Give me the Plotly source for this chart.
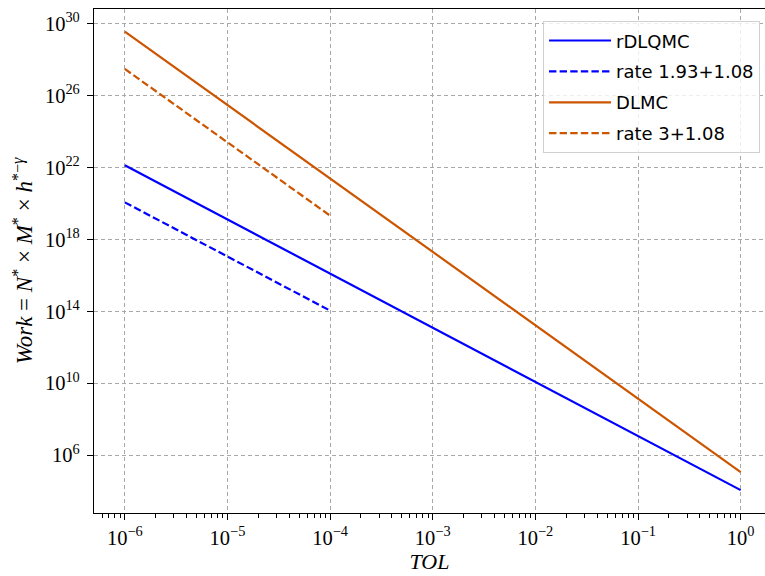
import plotly.graph_objects as go

# Tolerance levels (one per decade)
tol = [1e-6, 1e-5, 1e-4, 1e-3, 1e-2, 1e-1, 1e0]

# Estimated total work for each method
work_rdlqmc = [1.32e22, 1.29e19, 1.26e16, 1.23e13, 1.20e10, 1.17e7, 1.15e4]
work_dlmc = [3.55e29, 2.95e25, 2.45e21, 2.04e17, 1.70e13, 1.41e9, 1.17e5]

# Reference rate lines over the small-tolerance range
tol_rate = [1e-6, 1e-5, 1e-4]
rate_rdlqmc = [1.15e20, 1.12e17, 1.10e14]
rate_dlmc = [3.0e27, 2.5e23, 2.1e19]

# Tick positions and labels
x_tickvals = [1e-6, 1e-5, 1e-4, 1e-3, 1e-2, 1e-1, 1e0]
x_ticktext = ["10<sup>−6</sup>", "10<sup>−5</sup>", "10<sup>−4</sup>", "10<sup>−3</sup>",
              "10<sup>−2</sup>", "10<sup>−1</sup>", "10<sup>0</sup>"]
y_tickvals = [1e6, 1e10, 1e14, 1e18, 1e22, 1e26, 1e30]
y_ticktext = ["10<sup>6</sup>", "10<sup>10</sup>", "10<sup>14</sup>", "10<sup>18</sup>",
              "10<sup>22</sup>", "10<sup>26</sup>", "10<sup>30</sup>"]

BLUE = "#0000ff"
ORANGE = "#cc5500"
SERIF = "Liberation Serif"
DASH = "7.4px,3.2px"

fig = go.Figure()
fig.add_trace(go.Scatter(x=tol, y=work_rdlqmc, mode="lines", name="rDLQMC",
                         line=dict(color=BLUE, width=2.2), legendgroup="a"))
fig.add_trace(go.Scatter(x=tol_rate, y=rate_rdlqmc, mode="lines", name="rate 1.93+1.08",
                         line=dict(color=BLUE, width=2.2, dash=DASH), legendgroup="b"))
fig.add_trace(go.Scatter(x=tol, y=work_dlmc, mode="lines", name="DLMC",
                         line=dict(color=ORANGE, width=2.2), legendgroup="c"))
fig.add_trace(go.Scatter(x=tol_rate, y=rate_dlmc, mode="lines", name="rate 3+1.08",
                         line=dict(color=ORANGE, width=2.2, dash=DASH), legendgroup="d"))

axis_common = dict(
    type="log",
    showline=True, linecolor="black", linewidth=1.3,
    ticks="outside", ticklen=6, tickwidth=1.2, tickcolor="black",
    showgrid=True, gridcolor="#a8a8a8", gridwidth=1, griddash="4px,3px",
    zeroline=False,
    tickfont=dict(family=SERIF, size=20.5, color="black"),
)

fig.update_xaxes(
    **axis_common,
    range=[-6.3, 0.237],
    tickmode="array", tickvals=x_tickvals, ticktext=x_ticktext,
    mirror=True,
    minor=dict(ticks="outside", ticklen=3.5, tickwidth=1, tickcolor="black",
               dtick="D1", showgrid=False),
    title=dict(text="<i>TOL</i>", font=dict(family=SERIF, size=22, color="black"), standoff=4),
)
fig.update_yaxes(
    **axis_common,
    range=[2.79, 30.81],
    tickmode="array", tickvals=y_tickvals, ticktext=y_ticktext,
    ticklabelstandoff=3,
    title=dict(text="<i>Work</i> = <i>N</i><sup>*</sup> × <i>M</i><sup>*</sup> × <i>h</i><sup>*−<i>γ</i></sup>",
               font=dict(family=SERIF, size=23, color="black"), standoff=5),
)

fig.update_layout(
    width=765, height=576,
    margin=dict(l=94, r=0, t=9, b=63),
    paper_bgcolor="white", plot_bgcolor="white",
    showlegend=True,
    legend=dict(
        x=0.9926, y=0.9756, xanchor="right", yanchor="top",
        bgcolor="rgba(255,255,255,0.8)", bordercolor="#d0d0d0", borderwidth=1,
        font=dict(family="DejaVu Sans", size=18, color="black"),
        traceorder="grouped", tracegroupgap=4.5, itemwidth=62,
    ),
)

fig.write_html("out.html")
